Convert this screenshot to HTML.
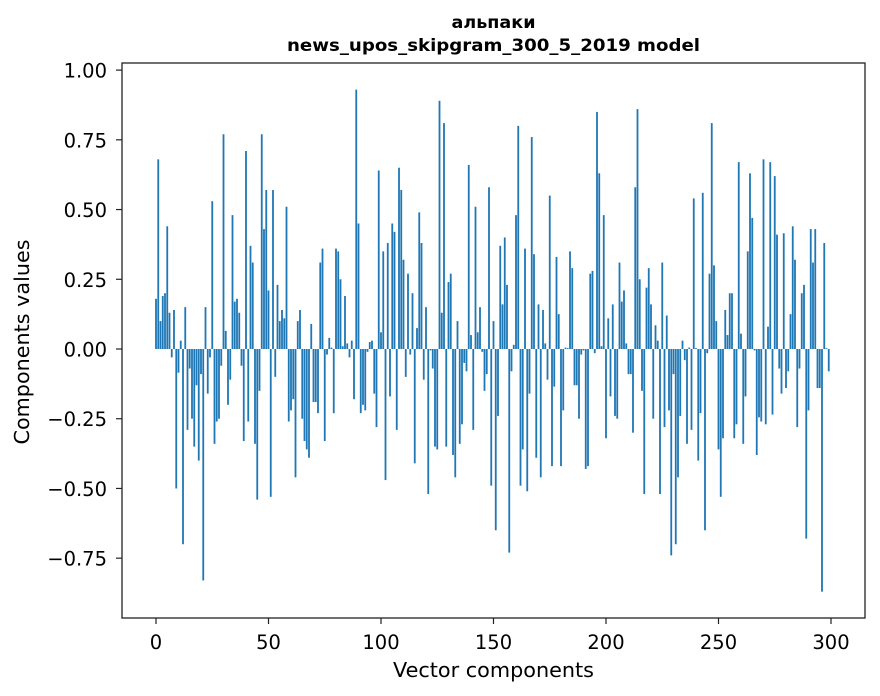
<!DOCTYPE html>
<html><head><meta charset="utf-8"><style>
html,body{margin:0;padding:0;background:#fff;}
svg{display:block;font-family:"DejaVu Sans","Liberation Sans",sans-serif;}
</style></head><body>
<svg id="chart" width="880" height="696" viewBox="0 0 880 696" xmlns="http://www.w3.org/2000/svg">
<rect width="880" height="696" fill="#fff"/>
<text x="493.5" y="28" text-anchor="middle" font-size="17" font-weight="bold" textLength="84" lengthAdjust="spacingAndGlyphs">альпаки</text>
<text x="493.5" y="51" text-anchor="middle" font-size="17" font-weight="bold" textLength="413" lengthAdjust="spacingAndGlyphs">news_upos_skipgram_300_5_2019 model</text>
<g id="bars"></g>
<g id="xticks"></g>
<g id="yticks"></g>
<rect x="122" y="63" width="743" height="555" fill="none" stroke="#222" stroke-width="1.3"/>
<text x="493.5" y="677" text-anchor="middle" font-size="20" textLength="201" lengthAdjust="spacingAndGlyphs">Vector components</text>
<text transform="translate(29,342) rotate(-90)" text-anchor="middle" font-size="20" textLength="205" lengthAdjust="spacingAndGlyphs">Components values</text>
</svg>
<script>
const componentValues = [
0.18,0.68,0.10,0.19,0.20,0.44,0.13,-0.03,0.14,-0.50,
-0.085,0.03,-0.70,0.15,-0.29,-0.07,-0.25,-0.35,-0.13,-0.40,
-0.09,-0.83,0.15,-0.16,-0.03,0.53,-0.34,-0.26,-0.25,-0.06,
0.77,0.065,-0.20,-0.11,0.48,0.17,0.18,0.13,-0.06,-0.33,
0.71,-0.26,0.37,0.31,-0.34,-0.54,-0.15,0.77,0.43,0.57,
0.21,-0.53,0.57,-0.10,0.23,0.10,0.14,0.11,0.51,-0.26,
-0.22,-0.18,-0.46,0.10,0.14,-0.25,-0.33,-0.36,-0.39,0.09,
-0.19,-0.19,-0.23,0.31,0.36,-0.33,-0.02,0.04,0.005,-0.23,
0.36,0.35,0.25,0.01,0.19,0.02,-0.03,0.03,-0.18,0.93,
0.45,-0.23,-0.20,-0.22,-0.01,0.025,0.03,-0.16,-0.28,0.64,
0.06,0.35,-0.47,0.38,-0.17,0.45,0.42,-0.29,0.65,0.57,
0.32,-0.10,0.27,-0.02,0.20,-0.41,0.075,0.49,0.38,-0.11,
0.15,-0.52,-0.005,-0.07,-0.35,-0.36,0.89,0.13,0.81,-0.35,
0.24,0.27,-0.38,-0.46,0.10,-0.34,-0.27,-0.05,-0.08,0.66,
0.05,-0.29,0.51,0.06,0.15,-0.01,-0.15,-0.09,0.58,-0.49,
0.10,-0.65,-0.24,0.37,0.16,0.40,0.23,-0.73,-0.08,0.015,
0.48,0.80,-0.49,-0.36,0.36,-0.51,-0.16,0.76,0.34,-0.39,
0.16,-0.46,0.14,0.02,-0.11,0.55,-0.42,-0.135,0.33,0.125,
-0.42,-0.22,0.005,0.003,0.35,0.29,-0.13,-0.13,-0.25,-0.02,
-0.005,-0.43,-0.42,0.27,0.28,-0.015,0.85,0.63,0.01,0.48,
-0.32,0.11,-0.17,0.16,-0.24,-0.25,0.31,0.17,0.21,0.02,
-0.09,-0.09,-0.30,0.58,0.86,0.25,-0.15,-0.52,0.22,0.29,
0.16,-0.25,0.085,0.03,-0.52,0.31,-0.28,0.12,-0.22,-0.74,
-0.09,-0.70,-0.46,-0.24,0.03,-0.04,-0.34,0.005,-0.29,0.54,
0.003,-0.40,-0.23,0.56,-0.65,-0.015,0.27,0.81,0.30,0.10,
-0.36,-0.53,-0.32,0.14,0.05,0.20,0.20,-0.32,-0.27,0.67,
0.055,-0.34,-0.17,0.35,0.63,0.47,-0.005,-0.38,-0.245,-0.26,
0.68,-0.27,0.08,0.67,-0.235,0.62,0.41,-0.07,-0.16,0.415,
-0.14,-0.08,0.125,0.44,0.32,-0.28,-0.07,0.20,0.23,-0.68,
-0.22,0.43,0.31,0.43,-0.14,-0.14,-0.87,0.38,0.003,-0.08
];
const xTickValues = [0,50,100,150,200,250,300];
const yTickValues = [1.00,0.75,0.50,0.25,0.00,-0.25,-0.50,-0.75];
const yTickLabels = ["1.00","0.75","0.50","0.25","0.00","\u22120.25","\u22120.50","\u22120.75"];

const NS = "http://www.w3.org/2000/svg";
function xScale(v){ return 156 + v * 2.25; }
function yScale(v){ return 349 - v * 278.9; }

const barsG = document.getElementById('bars');
componentValues.forEach(function(v, i){
  const r = document.createElementNS(NS, 'rect');
  const y0 = yScale(0), y1 = yScale(v);
  r.setAttribute('x', xScale(i - 0.4));
  r.setAttribute('width', 2.25 * 0.8);
  r.setAttribute('y', Math.min(y0, y1));
  r.setAttribute('height', Math.max(Math.abs(y1 - y0), 0.3));
  r.setAttribute('fill', '#1f77b4');
  
  
  barsG.appendChild(r);
});

const xg = document.getElementById('xticks');
xTickValues.forEach(function(v){
  const x = xScale(v);
  const l = document.createElementNS(NS, 'line');
  l.setAttribute('x1', x); l.setAttribute('x2', x);
  l.setAttribute('y1', 618); l.setAttribute('y2', 624);
  l.setAttribute('stroke', '#222'); l.setAttribute('stroke-width', '1.2');
  
  
  xg.appendChild(l);
  const t = document.createElementNS(NS, 'text');
  t.setAttribute('x', x); t.setAttribute('y', 649);
  t.setAttribute('text-anchor', 'middle'); t.setAttribute('font-size', '19.5');
  t.textContent = String(v);
  
  
  xg.appendChild(t);
});

const yg = document.getElementById('yticks');
yTickValues.forEach(function(v, k){
  const y = yScale(v);
  const l = document.createElementNS(NS, 'line');
  l.setAttribute('x1', 116); l.setAttribute('x2', 122);
  l.setAttribute('y1', y); l.setAttribute('y2', y);
  l.setAttribute('stroke', '#222'); l.setAttribute('stroke-width', '1.2');
  
  
  yg.appendChild(l);
  const t = document.createElementNS(NS, 'text');
  t.setAttribute('x', 107); t.setAttribute('y', y + 7.5);
  t.setAttribute('text-anchor', 'end'); t.setAttribute('font-size', '19.5');
  t.textContent = yTickLabels[k];
  
  
  yg.appendChild(t);
});
</script>
</body></html>
